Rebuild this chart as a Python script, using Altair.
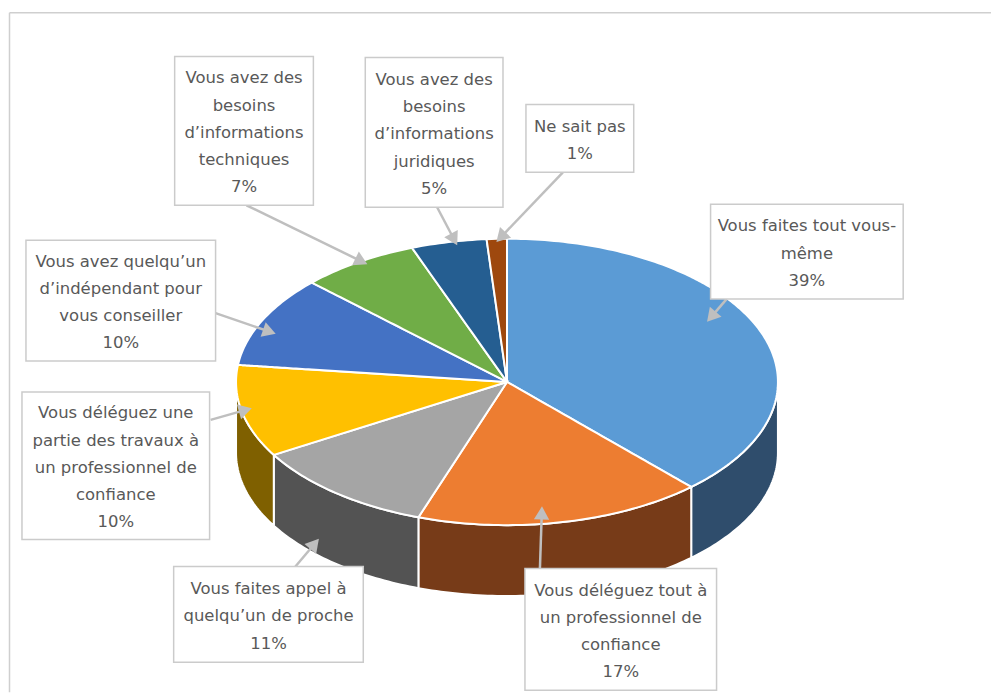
import numpy as np
import pandas as pd
import altair as alt

# ---- chart values
categories = ["Vous faites tout vous-même", "Vous déléguez tout à un professionnel de confiance",
              "Vous faites appel à quelqu’un de proche",
              "Vous déléguez une partie des travaux à un professionnel de confiance",
              "Vous avez quelqu’un d’indépendant pour vous conseiller",
              "Vous avez des besoins d’informations techniques",
              "Vous avez des besoins d’informations juridiques", "Ne sait pas"]
shares = [38.1, 17.2, 11.2, 10.4, 10.3, 7.1, 4.5, 1.2]
top_colors = ["#5B9BD5", "#ED7D31", "#A5A5A5", "#FFC000", "#4472C4", "#70AD47", "#255E91", "#9E480E"]
side_colors = ["#2F4D6C", "#773B18", "#535353", "#7F6000", "#2A4579", "#446A2B", "#163A5A", "#5F2C08"]

label_lines = [
    ["Vous faites tout vous-", "même", "39%"],
    ["Vous déléguez tout à", "un professionnel de", "confiance", "17%"],
    ["Vous faites appel à", "quelqu’un de proche", "11%"],
    ["Vous déléguez une", "partie des travaux à", "un professionnel de", "confiance", "10%"],
    ["Vous avez quelqu’un", "d’indépendant pour", "vous conseiller", "10%"],
    ["Vous avez des", "besoins", "d’informations", "techniques", "7%"],
    ["Vous avez des", "besoins", "d’informations", "juridiques", "5%"],
    ["Ne sait pas", "1%"],
]
box_left = [711, 525, 173, 21, 25, 174, 365, 526]
box_right = [904, 717, 363, 209, 215, 313, 503, 634]
box_top = [204, 569, 567, 392, 240, 56, 57, 104]
box_bottom = [299, 691, 663, 540, 361, 205, 207, 172]
line_start_x = [727, 540, 295, 210, 215, 246, 437, 563]
line_start_y = [299, 569, 567, 420, 313, 205, 207, 172]
tip_x = [709, 542, 317, 249, 273, 365, 456, 498]
tip_y = [320, 509, 541, 409, 333, 263, 243, 240]

# ---- pie layout
CX, CY, RX, RY, DEPTH = 507.0, 382.0, 271.5, 143.5, 71.0
LINE_H = 27.3
W, H = 984, 685
xs_scale = alt.Scale(domain=[8, 8 + W], nice=False, zero=False)
ys_scale = alt.Scale(domain=[8 + H, 8], nice=False, zero=False)


def ell(t):
    r = np.radians(t)
    return CX + RX * np.sin(r), CY - RY * np.cos(r)


def wedge_rows(name, t0, t1):
    n = max(int(t1 - t0), 2) + 1
    ax, ay = ell(np.linspace(t0, t1, n))
    px = np.r_[CX, ax, CX]
    py = np.r_[CY, ay, CY]
    rows = []
    for x in np.unique(np.round(px[:-1], 3)):
        hits = []
        for i in range(len(px) - 1):
            a, b = px[i], px[i + 1]
            if min(a, b) - 2e-3 <= x <= max(a, b) + 2e-3:
                if abs(a - b) < 1e-3:
                    hits += [py[i], py[i + 1]]
                else:
                    hits.append(py[i] + (x - a) / (b - a) * (py[i + 1] - py[i]))
        rows.append(dict(slice=name, x=x, y=min(hits), y2=max(hits)))
    return rows


def wall_rows(name, t0, t1):
    lo, hi = max(t0, 90), min(t1, 270)
    if lo >= hi:
        return []
    ax, ay = ell(np.linspace(lo, hi, int(hi - lo) + 2))
    return [dict(slice=name, x=a, y=b, y2=b + DEPTH) for a, b in zip(ax, ay)]


cum = np.r_[0, np.cumsum(shares)] * 3.6
top_rows, side_rows = [], []
for i, c in enumerate(categories):
    top_rows += wedge_rows(c, cum[i], cum[i + 1])
    side_rows += wall_rows(c, cum[i], cum[i + 1])


def area_layer(rows, colors):
    return alt.Chart(pd.DataFrame(rows)).mark_area(
        stroke="white", strokeWidth=2, orient="vertical", opacity=1
    ).encode(
        x=alt.X("x:Q", scale=xs_scale, axis=None),
        y=alt.Y("y:Q", scale=ys_scale, axis=None),
        y2="y2:Q",
        color=alt.Color("slice:N", scale=alt.Scale(domain=categories, range=colors), legend=None),
    )


walls = area_layer(side_rows, side_colors)
wedges = area_layer(top_rows, top_colors)

boxes = pd.DataFrame(dict(l=box_left, r=box_right, t=box_top, b=box_bottom))
rect = alt.Chart(boxes).mark_rect(fill="white", stroke="#CBCBCB", strokeWidth=1.5).encode(
    x=alt.X("l:Q", scale=xs_scale, axis=None), x2="r:Q",
    y=alt.Y("t:Q", scale=ys_scale, axis=None), y2="b:Q",
)

lead = pd.DataFrame(dict(x0=line_start_x, y0=line_start_y, x1=tip_x, y1=tip_y))
lead["dx"] = lead.x1 - lead.x0
lead["dy"] = lead.y1 - lead.y0
lead["len"] = np.hypot(lead.dx, lead.dy)
lead["hx"] = lead.x1 - lead.dx / lead.len * 6.5
lead["hy"] = lead.y1 - lead.dy / lead.len * 6.5
lead["ang"] = (np.degrees(np.arctan2(lead.dx, -lead.dy))) % 360
rules = alt.Chart(lead).mark_rule(color="#BFBFBF", strokeWidth=2.5).encode(
    x=alt.X("x0:Q", scale=xs_scale, axis=None), x2="hx:Q",
    y=alt.Y("y0:Q", scale=ys_scale, axis=None), y2="hy:Q",
)
heads = alt.Chart(lead).mark_point(shape="triangle", filled=True, color="#BFBFBF", size=235, opacity=1).encode(
    x=alt.X("hx:Q", scale=xs_scale, axis=None),
    y=alt.Y("hy:Q", scale=ys_scale, axis=None),
    angle=alt.Angle("ang:Q", scale=None),
)

text_rows = []
for i, lines in enumerate(label_lines):
    mid = (box_top[i] + box_bottom[i]) / 2
    cx = (box_left[i] + box_right[i]) / 2
    for j, s in enumerate(lines):
        text_rows.append(dict(t=s, x=cx, y=mid + 2 + (j - (len(lines) - 1) / 2) * LINE_H))
texts = alt.Chart(pd.DataFrame(text_rows)).mark_text(
    font="DejaVu Sans", fontSize=16.5, color="#595959", baseline="middle", align="center"
).encode(
    x=alt.X("x:Q", scale=xs_scale, axis=None),
    y=alt.Y("y:Q", scale=ys_scale, axis=None),
    text="t:N",
)

frame = pd.DataFrame(dict(x=[8.5, 8.5], x2=[992, 8.5], y=[12, 12], y2=[12, 693]))
frame_rule = alt.Chart(frame).mark_rule(color="#CFCFCF", strokeWidth=1.5).encode(
    x=alt.X("x:Q", scale=xs_scale, axis=None), x2="x2:Q",
    y=alt.Y("y:Q", scale=ys_scale, axis=None), y2="y2:Q",
)

chart = alt.layer(frame_rule, walls, wedges, rules, rect, heads, texts).properties(
    width=W, height=H, padding=0, background="white"
).configure_view(stroke=None).resolve_scale(color="independent")

chart.save("out.html", embed_options={"renderer": "svg", "actions": False})
